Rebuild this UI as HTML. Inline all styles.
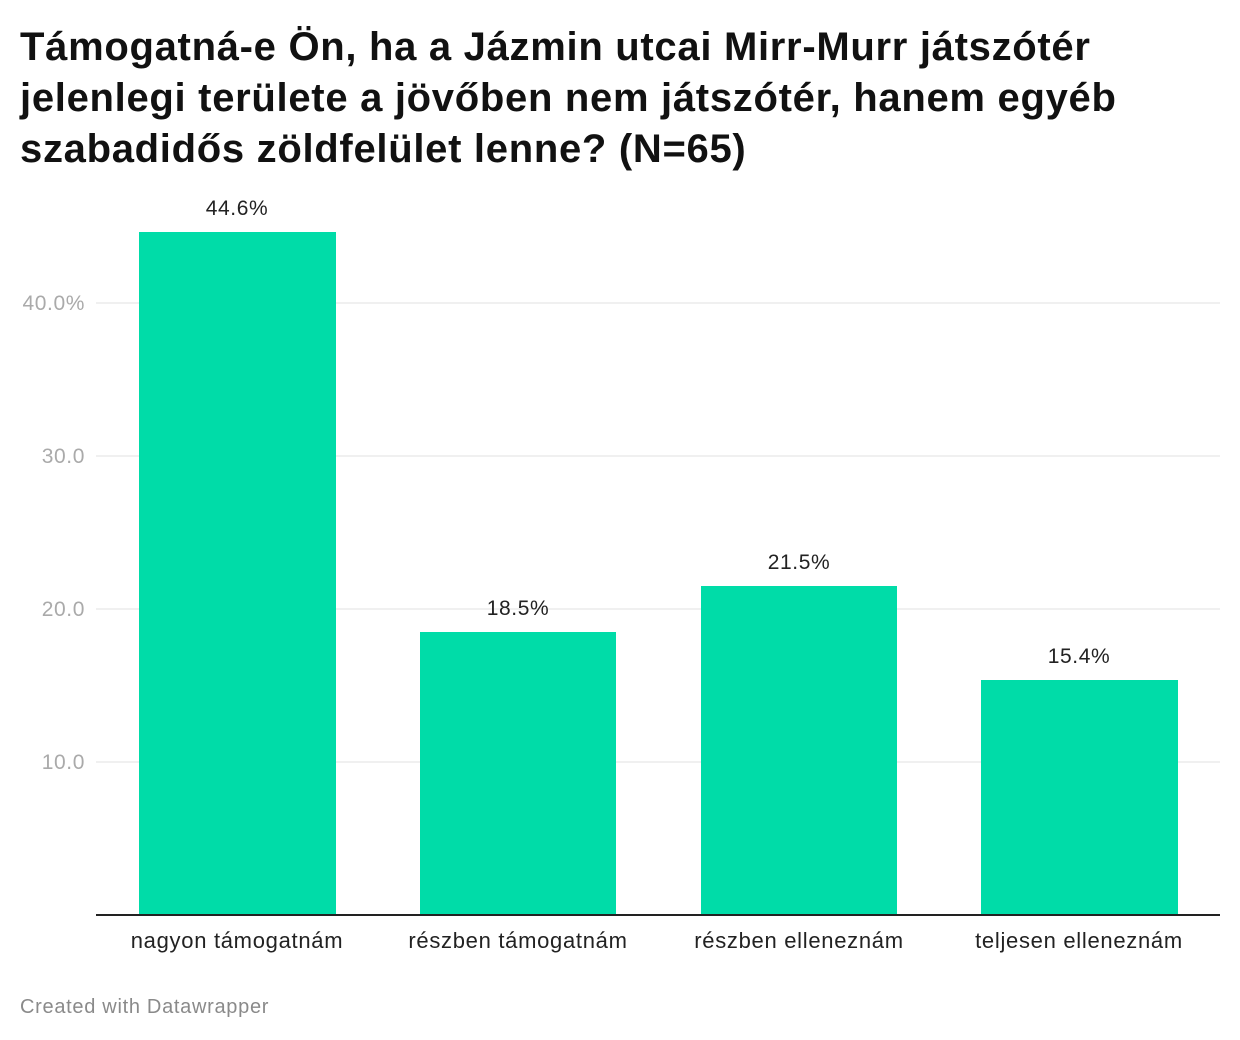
<!DOCTYPE html>
<html><head><meta charset="utf-8"><style>
body{margin:0;background:#fff;width:1240px;height:1040px;overflow:hidden;font-family:"Liberation Sans",sans-serif;position:relative}
.t{position:absolute;left:20px;top:22px;font-size:40px;font-weight:bold;line-height:51px;color:#111;letter-spacing:0.7px;white-space:nowrap}
</style></head><body>
<div class="t">Támogatná-e Ön, ha a Jázmin utcai Mirr-Murr játszótér<br>jelenlegi területe a jövőben nem játszótér, hanem egyéb<br>szabadidős zöldfelület lenne? (N=65)</div>
<svg width="1240" height="1040" style="position:absolute;left:0;top:0">
<g stroke="#e0e0e0" stroke-width="1">
<line x1="96" x2="1220" y1="303" y2="303"/><line x1="96" x2="1220" y1="456" y2="456"/>
<line x1="96" x2="1220" y1="609" y2="609"/><line x1="96" x2="1220" y1="762" y2="762"/>
</g>
<g fill="#aaa" font-size="21" letter-spacing="0.6" text-anchor="end" font-family="Liberation Sans,sans-serif">
<text x="85" y="310">40.0%</text><text x="85" y="463">30.0</text><text x="85" y="616">20.0</text><text x="85" y="769">10.0</text>
</g>
<g fill="#00dca8">
<rect x="139" y="232" width="197" height="683"/>
<rect x="420" y="632" width="196" height="283"/>
<rect x="701" y="586" width="196" height="329"/>
<rect x="981" y="680" width="197" height="235"/>
</g>
<line x1="96" x2="1220" y1="915" y2="915" stroke="#222" stroke-width="2"/>
<g fill="#222" font-size="21" letter-spacing="0.6" text-anchor="middle" font-family="Liberation Sans,sans-serif">
<text x="237" y="215">44.6%</text><text x="518" y="615">18.5%</text><text x="799" y="569">21.5%</text><text x="1079" y="663">15.4%</text>
</g>
<g fill="#222" font-size="22" letter-spacing="0.7" text-anchor="middle" font-family="Liberation Sans,sans-serif">
<text x="237" y="948">nagyon támogatnám</text><text x="518" y="948">részben támogatnám</text><text x="799" y="948">részben elleneznám</text><text x="1079" y="948">teljesen elleneznám</text>
</g>
<text x="20" y="1013" fill="#8a8a8a" font-size="20" letter-spacing="0.7" font-family="Liberation Sans,sans-serif">Created with Datawrapper</text>
</svg>
</body></html>
